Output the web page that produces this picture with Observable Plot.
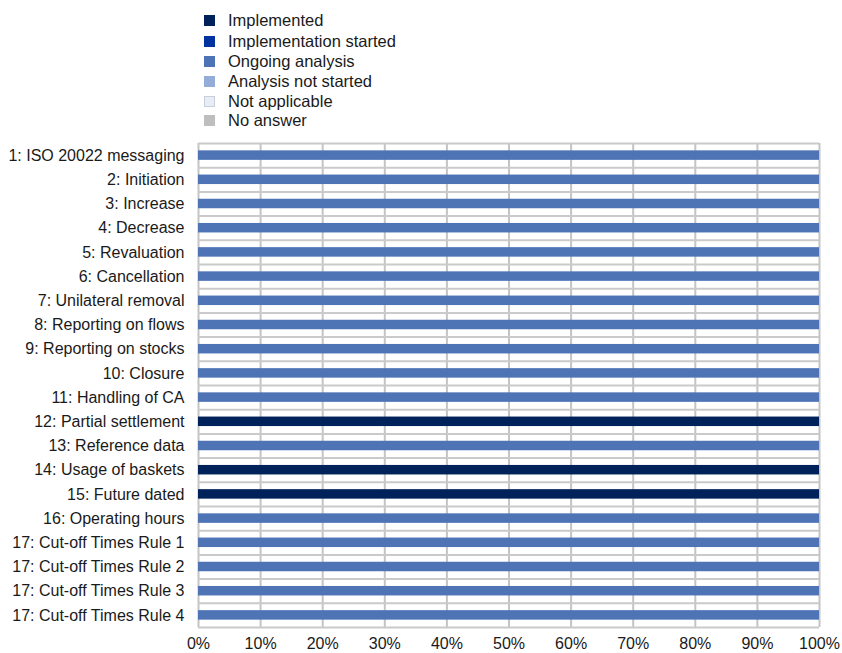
<!DOCTYPE html>
<html>
<head>
<meta charset="utf-8">
<script src="https://cdn.jsdelivr.net/npm/d3@7"></script>
<script src="https://cdn.jsdelivr.net/npm/@observablehq/plot@0.6"></script>
<style>
  html, body { margin: 0; padding: 0; background: #fff; }
  body { width: 842px; height: 653px; position: relative; font-family: "Liberation Sans", Arial, sans-serif; overflow: hidden; }
  #legend { position: relative; height: 135px; }
  .li { position: absolute; left: 204px; height: 14px; display: flex; align-items: center; font-size: 16.5px; color: #1a1a1a; white-space: nowrap; }
  .sw { width: 11px; height: 11px; margin-right: 13px; box-sizing: border-box; flex: none; }
  #chart svg { display: block; }
</style>
</head>
<body>
<div id="legend"></div>
<div id="chart"></div>
<script>
const categories = [
  "1: ISO 20022 messaging", "2: Initiation", "3: Increase", "4: Decrease", "5: Revaluation",
  "6: Cancellation", "7: Unilateral removal", "8: Reporting on flows", "9: Reporting on stocks",
  "10: Closure", "11: Handling of CA", "12: Partial settlement", "13: Reference data",
  "14: Usage of baskets", "15: Future dated", "16: Operating hours", "17: Cut-off Times Rule 1",
  "17: Cut-off Times Rule 2", "17: Cut-off Times Rule 3", "17: Cut-off Times Rule 4"
];
const statuses = ["Implemented", "Implementation started", "Ongoing analysis", "Analysis not started", "Not applicable", "No answer"];
const statusColors = ["#00225A", "#0033A0", "#4E74B6", "#93ACD8", "#E7ECF5", "#BEBEBE"];

const implemented          = [0,0,0,0,0,0,0,0,0,0,0,100,0,100,100,0,0,0,0,0];
const implementationStarted= [0,0,0,0,0,0,0,0,0,0,0,0,0,0,0,0,0,0,0,0];
const ongoingAnalysis      = [100,100,100,100,100,100,100,100,100,100,100,0,100,0,0,100,100,100,100,100];
const analysisNotStarted   = [0,0,0,0,0,0,0,0,0,0,0,0,0,0,0,0,0,0,0,0];
const notApplicable        = [0,0,0,0,0,0,0,0,0,0,0,0,0,0,0,0,0,0,0,0];
const noAnswer             = [0,0,0,0,0,0,0,0,0,0,0,0,0,0,0,0,0,0,0,0];
const xTicks = [0,10,20,30,40,50,60,70,80,90,100];

const series = [implemented, implementationStarted, ongoingAnalysis, analysisNotStarted, notApplicable, noAnswer];
const rows = [];
categories.forEach((c, i) => statuses.forEach((s, j) => rows.push({category: c, status: s, value: series[j][i]})));

// legend
const legend = document.getElementById("legend");
const legendTops = [13.5, 34.5, 54.5, 74.5, 94.5, 113.5];
statuses.forEach((s, j) => {
  const d = document.createElement("div");
  d.className = "li";
  d.style.top = legendTops[j] + "px";
  const sw = document.createElement("span");
  sw.className = "sw";
  sw.style.background = statusColors[j];
  if (j === 4) sw.style.border = "1px solid #c8cfdc";
  d.appendChild(sw);
  d.appendChild(document.createTextNode(s));
  legend.appendChild(d);
});

const W = 842, H = 518, mT = 8, mB = 26, mL = 198, mR = 23;
const step = (H - mT - mB) / categories.length;
const barH = 9.5;
const inset = (step - barH) / 2;

const chart = Plot.plot({
  width: W, height: H,
  marginTop: mT, marginBottom: mB, marginLeft: mL, marginRight: mR,
  style: {fontFamily: "'Liberation Sans', Arial, sans-serif", fontSize: "16px", color: "#1a1a1a"},
  x: {domain: [0, 100], ticks: xTicks, tickFormat: d => d + "%", tickSize: 0, tickPadding: 10, label: null},
  y: {domain: categories, padding: 0, round: false, tickSize: 0, tickPadding: 14, label: null},
  color: {domain: statuses, range: statusColors},
  marks: [
    Plot.ruleX(xTicks, {stroke: "#c4c4c4", strokeWidth: 2}),
    Plot.ruleY(categories, {y: d => d, dy: -step / 2, stroke: "#cacaca", strokeWidth: 2}),
    Plot.ruleY(categories.slice(-1), {y: d => d, dy: step / 2, stroke: "#cacaca", strokeWidth: 2}),
    Plot.barX(rows, Plot.stackX({order: statuses, x: "value", y: "category", fill: "status", insetTop: inset, insetBottom: inset})),
  ]
});
document.getElementById("chart").appendChild(chart);
</script>
</body>
</html>
